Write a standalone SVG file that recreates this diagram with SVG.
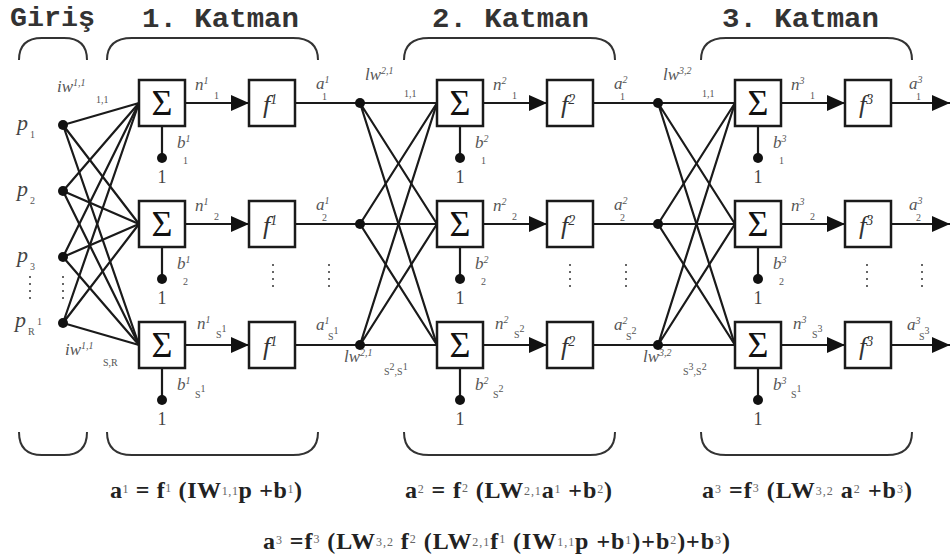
<svg xmlns="http://www.w3.org/2000/svg" width="950" height="560" viewBox="0 0 950 560">
<style>
.bg{fill:#fff}
.ln{stroke:#1a1a1a;stroke-width:2.2;fill:none}
.box{fill:#fff;stroke:#1a1a1a;stroke-width:2.5}
.dot{fill:#111}
.br{stroke:#333;stroke-width:2;fill:none}
.vd{stroke:#666;stroke-width:2;stroke-dasharray:2 5;fill:none}
.tt{font-family:"Liberation Mono","DejaVu Sans Mono",monospace;font-weight:bold;font-size:27px;fill:#333}
.sig{font-family:"Liberation Serif","DejaVu Serif",serif;font-size:36px;fill:#111;text-anchor:middle}
.fn{font-family:"Liberation Serif","DejaVu Serif",serif;font-style:italic;font-size:26px;fill:#333}
.lb{font-family:"Liberation Serif","DejaVu Serif",serif;font-style:italic;font-size:17px;fill:#555}
.sm{font-family:"Liberation Serif","DejaVu Serif",serif;font-size:10px;fill:#555}
.pl{font-family:"Liberation Serif","DejaVu Serif",serif;font-style:italic;font-size:22px;fill:#444}
.one{font-family:"Liberation Serif","DejaVu Serif",serif;font-size:18px;fill:#444;text-anchor:middle}
.fm{font-family:"Liberation Serif","DejaVu Serif",serif;font-weight:bold;font-size:24px;fill:#222}
.fs{font-size:12px;font-weight:normal;fill:#666}
</style>
<defs>
<marker id="ah" markerUnits="userSpaceOnUse" markerWidth="18" markerHeight="17" viewBox="0 0 18 17" refX="18" refY="8.5" orient="auto">
<path d="M0,0.5 L18,8.5 L0,16.5 z" fill="#111"/>
</marker>
</defs>
<rect class="bg" x="0" y="0" width="950" height="560"/>

<g id="titles">
<text class="tt" x="10" y="26" textLength="85" lengthAdjust="spacingAndGlyphs">Giriş</text>
<text class="tt" x="142" y="27" textLength="157" lengthAdjust="spacingAndGlyphs">1. Katman</text>
<text class="tt" x="432" y="27" textLength="157" lengthAdjust="spacingAndGlyphs">2. Katman</text>
<text class="tt" x="722" y="27" textLength="157" lengthAdjust="spacingAndGlyphs">3. Katman</text>
</g>

<g id="braces">
<path class="br" d="M19,60 Q19,38 42,38 L64,38 Q87,38 87,60"/>
<path class="br" d="M107,60 Q107,38 132,38 L293,38 Q318,38 318,60"/>
<path class="br" d="M404,60 Q404,38 429,38 L590,38 Q615,38 615,60"/>
<path class="br" d="M701,60 Q701,38 726,38 L887,38 Q912,38 912,60"/>
<path class="br" d="M19,432 Q19,455 42,455 L64,455 Q87,455 87,432"/>
<path class="br" d="M107,432 Q107,455 132,455 L293,455 Q318,455 318,432"/>
<path class="br" d="M404,432 Q404,455 429,455 L590,455 Q615,455 615,432"/>
<path class="br" d="M701,432 Q701,455 726,455 L887,455 Q912,455 912,432"/>
</g>

<g id="connectors">
<path class="ln" d="M63,125 L139,103 M63,125 L139,224 M63,125 L139,345"/>
<path class="ln" d="M63,191 L139,103 M63,191 L139,224 M63,191 L139,345"/>
<path class="ln" d="M63,257 L139,103 M63,257 L139,224 M63,257 L139,345"/>
<path class="ln" d="M63,323 L139,103 M63,323 L139,224 M63,323 L139,345"/>
<path class="ln" d="M360,103 L437,103 M360,103 L437,224 M360,103 L437,345"/>
<path class="ln" d="M360,224 L437,103 M360,224 L437,224 M360,224 L437,345"/>
<path class="ln" d="M360,345 L437,103 M360,345 L437,224 M360,345 L437,345"/>
<path class="ln" d="M658,103 L735,103 M658,103 L735,224 M658,103 L735,345"/>
<path class="ln" d="M658,224 L735,103 M658,224 L735,224 M658,224 L735,345"/>
<path class="ln" d="M658,345 L735,103 M658,345 L735,224 M658,345 L735,345"/>
<line class="ln" x1="185" y1="103" x2="249" y2="103" marker-end="url(#ah)"/>
<line class="ln" x1="185" y1="224" x2="249" y2="224" marker-end="url(#ah)"/>
<line class="ln" x1="185" y1="345" x2="249" y2="345" marker-end="url(#ah)"/>
<line class="ln" x1="483" y1="103" x2="547" y2="103" marker-end="url(#ah)"/>
<line class="ln" x1="483" y1="224" x2="547" y2="224" marker-end="url(#ah)"/>
<line class="ln" x1="483" y1="345" x2="547" y2="345" marker-end="url(#ah)"/>
<line class="ln" x1="781" y1="103" x2="845" y2="103" marker-end="url(#ah)"/>
<line class="ln" x1="781" y1="224" x2="845" y2="224" marker-end="url(#ah)"/>
<line class="ln" x1="781" y1="345" x2="845" y2="345" marker-end="url(#ah)"/>
<path class="ln" d="M295,103 L360,103 M295,224 L360,224 M295,345 L360,345"/>
<path class="ln" d="M593,103 L658,103 M593,224 L658,224 M593,345 L658,345"/>
<line class="ln" x1="891" y1="103" x2="950" y2="103" marker-end="url(#ah)"/>
<line class="ln" x1="891" y1="224" x2="950" y2="224" marker-end="url(#ah)"/>
<line class="ln" x1="891" y1="345" x2="950" y2="345" marker-end="url(#ah)"/>
<path class="ln" d="M162,126 L162,158 M162,247 L162,279 M162,368 L162,400"/>
<path class="ln" d="M460,126 L460,158 M460,247 L460,279 M460,368 L460,400"/>
<path class="ln" d="M758,126 L758,158 M758,247 L758,279 M758,368 L758,400"/>
</g>

<g id="inputs">
<circle class="dot" cx="63" cy="125" r="5"/>
<circle class="dot" cx="63" cy="191" r="5"/>
<circle class="dot" cx="63" cy="257" r="5"/>
<circle class="dot" cx="63" cy="323" r="5"/>
<text class="pl" x="17" y="130">p</text><text class="sm" x="30" y="138">1</text>
<text class="pl" x="17" y="196">p</text><text class="sm" x="30" y="204">2</text>
<text class="pl" x="17" y="262">p</text><text class="sm" x="30" y="270">3</text>
<text class="pl" x="15" y="327">p</text><text class="sm" x="28" y="335">R</text><text class="sm" x="37" y="325">1</text>
<line class="vd" x1="30" y1="276" x2="30" y2="302"/>
<line class="vd" x1="63" y1="276" x2="63" y2="302"/>
<text class="lb" x="57" y="92">iw<tspan class="sm" dy="-6">1,1</tspan></text>
<text class="sm" x="96" y="103">1,1</text>
<text class="lb" x="65" y="355">iw<tspan class="sm" dy="-6">1,1</tspan></text>
<text class="sm" x="103" y="366">S,R</text>
</g>

<g id="layer1">
<g id="sum1-1"><rect class="box" x="139" y="80" width="46" height="46"/><text class="sig" x="162" y="115">Σ</text></g>
<g id="sum1-2"><rect class="box" x="139" y="201" width="46" height="46"/><text class="sig" x="162" y="236">Σ</text></g>
<g id="sum1-3"><rect class="box" x="139" y="322" width="46" height="46"/><text class="sig" x="162" y="357">Σ</text></g>
<g id="f1-1"><rect class="box" x="249" y="80" width="46" height="46"/><text class="fn" x="263" y="113">f<tspan font-size="14" dy="-9">1</tspan></text></g>
<g id="f1-2"><rect class="box" x="249" y="201" width="46" height="46"/><text class="fn" x="263" y="234">f<tspan font-size="14" dy="-9">1</tspan></text></g>
<g id="f1-3"><rect class="box" x="249" y="322" width="46" height="46"/><text class="fn" x="263" y="355">f<tspan font-size="14" dy="-9">1</tspan></text></g>
<g id="b1">
<circle class="dot" cx="162" cy="158" r="5"/><circle class="dot" cx="162" cy="279" r="5"/><circle class="dot" cx="162" cy="400" r="5"/>
<text class="one" x="162" y="183">1</text><text class="one" x="162" y="304">1</text><text class="one" x="162" y="425">1</text>
<text class="lb" x="177" y="148">b<tspan class="sm" dy="-6">1</tspan></text><text class="sm" x="183" y="164">1</text>
<text class="lb" x="177" y="269">b<tspan class="sm" dy="-6">1</tspan></text><text class="sm" x="183" y="285">2</text>
<text class="lb" x="177" y="390">b<tspan class="sm" dy="-6">1</tspan></text><text class="sm" x="195" y="398">S<tspan dy="-6">1</tspan></text>
</g>
<g id="n1">
<text class="lb" x="195" y="90">n<tspan class="sm" dy="-6">1</tspan></text><text class="sm" x="214" y="99">1</text>
<text class="lb" x="195" y="211">n<tspan class="sm" dy="-6">1</tspan></text><text class="sm" x="214" y="220">2</text>
<text class="lb" x="197" y="329">n<tspan class="sm" dy="-6">1</tspan></text><text class="sm" x="216" y="338">S<tspan dy="-6">1</tspan></text>
</g>
<g id="a1">
<text class="lb" x="316" y="89">a<tspan class="sm" dy="-6">1</tspan></text><text class="sm" x="322" y="100">1</text>
<text class="lb" x="316" y="210">a<tspan class="sm" dy="-6">1</tspan></text><text class="sm" x="322" y="221">2</text>
<text class="lb" x="316" y="330">a<tspan class="sm" dy="-6">1</tspan></text><text class="sm" x="328" y="340">S<tspan dy="-6">1</tspan></text>
</g>
<line class="vd" x1="273" y1="264" x2="273" y2="292"/>
<line class="vd" x1="329" y1="264" x2="329" y2="292"/>
</g>

<g id="layer2">
<circle class="dot" cx="360" cy="103" r="5"/><circle class="dot" cx="360" cy="224" r="5"/><circle class="dot" cx="360" cy="345" r="5"/>
<text class="lb" x="365" y="80">lw<tspan class="sm" dy="-6">2,1</tspan></text><text class="sm" x="404" y="97">1,1</text>
<text class="lb" x="344" y="362">lw<tspan class="sm" dy="-6">2,1</tspan></text><text class="sm" x="384" y="375">S<tspan dy="-5">2</tspan><tspan dy="5">,S</tspan><tspan dy="-5">1</tspan></text>
<g id="sum2-1"><rect class="box" x="437" y="80" width="46" height="46"/><text class="sig" x="460" y="115">Σ</text></g>
<g id="sum2-2"><rect class="box" x="437" y="201" width="46" height="46"/><text class="sig" x="460" y="236">Σ</text></g>
<g id="sum2-3"><rect class="box" x="437" y="322" width="46" height="46"/><text class="sig" x="460" y="357">Σ</text></g>
<g id="f2-1"><rect class="box" x="547" y="80" width="46" height="46"/><text class="fn" x="561" y="113">f<tspan font-size="14" dy="-9">2</tspan></text></g>
<g id="f2-2"><rect class="box" x="547" y="201" width="46" height="46"/><text class="fn" x="561" y="234">f<tspan font-size="14" dy="-9">2</tspan></text></g>
<g id="f2-3"><rect class="box" x="547" y="322" width="46" height="46"/><text class="fn" x="561" y="355">f<tspan font-size="14" dy="-9">2</tspan></text></g>
<g id="b2">
<circle class="dot" cx="460" cy="158" r="5"/><circle class="dot" cx="460" cy="279" r="5"/><circle class="dot" cx="460" cy="400" r="5"/>
<text class="one" x="460" y="183">1</text><text class="one" x="460" y="304">1</text><text class="one" x="460" y="425">1</text>
<text class="lb" x="475" y="148">b<tspan class="sm" dy="-6">2</tspan></text><text class="sm" x="481" y="164">1</text>
<text class="lb" x="475" y="269">b<tspan class="sm" dy="-6">2</tspan></text><text class="sm" x="481" y="285">2</text>
<text class="lb" x="475" y="390">b<tspan class="sm" dy="-6">2</tspan></text><text class="sm" x="493" y="398">S<tspan dy="-6">2</tspan></text>
</g>
<g id="n2">
<text class="lb" x="493" y="90">n<tspan class="sm" dy="-6">2</tspan></text><text class="sm" x="512" y="99">1</text>
<text class="lb" x="493" y="211">n<tspan class="sm" dy="-6">2</tspan></text><text class="sm" x="512" y="220">2</text>
<text class="lb" x="495" y="329">n<tspan class="sm" dy="-6">2</tspan></text><text class="sm" x="514" y="338">S<tspan dy="-6">2</tspan></text>
</g>
<g id="a2">
<text class="lb" x="614" y="89">a<tspan class="sm" dy="-6">2</tspan></text><text class="sm" x="620" y="100">1</text>
<text class="lb" x="614" y="210">a<tspan class="sm" dy="-6">2</tspan></text><text class="sm" x="620" y="221">2</text>
<text class="lb" x="614" y="330">a<tspan class="sm" dy="-6">2</tspan></text><text class="sm" x="626" y="340">S<tspan dy="-6">2</tspan></text>
</g>
<line class="vd" x1="570" y1="264" x2="570" y2="292"/>
<line class="vd" x1="626" y1="264" x2="626" y2="292"/>
</g>

<g id="layer3">
<circle class="dot" cx="658" cy="103" r="5"/><circle class="dot" cx="658" cy="224" r="5"/><circle class="dot" cx="658" cy="345" r="5"/>
<text class="lb" x="663" y="80">lw<tspan class="sm" dy="-6">3,2</tspan></text><text class="sm" x="702" y="97">1,1</text>
<text class="lb" x="643" y="362">lw<tspan class="sm" dy="-6">3,2</tspan></text><text class="sm" x="683" y="375">S<tspan dy="-5">3</tspan><tspan dy="5">,S</tspan><tspan dy="-5">2</tspan></text>
<g id="sum3-1"><rect class="box" x="735" y="80" width="46" height="46"/><text class="sig" x="758" y="115">Σ</text></g>
<g id="sum3-2"><rect class="box" x="735" y="201" width="46" height="46"/><text class="sig" x="758" y="236">Σ</text></g>
<g id="sum3-3"><rect class="box" x="735" y="322" width="46" height="46"/><text class="sig" x="758" y="357">Σ</text></g>
<g id="f3-1"><rect class="box" x="845" y="80" width="46" height="46"/><text class="fn" x="859" y="113">f<tspan font-size="14" dy="-9">3</tspan></text></g>
<g id="f3-2"><rect class="box" x="845" y="201" width="46" height="46"/><text class="fn" x="859" y="234">f<tspan font-size="14" dy="-9">3</tspan></text></g>
<g id="f3-3"><rect class="box" x="845" y="322" width="46" height="46"/><text class="fn" x="859" y="355">f<tspan font-size="14" dy="-9">3</tspan></text></g>
<g id="b3">
<circle class="dot" cx="758" cy="158" r="5"/><circle class="dot" cx="758" cy="279" r="5"/><circle class="dot" cx="758" cy="400" r="5"/>
<text class="one" x="758" y="183">1</text><text class="one" x="758" y="304">1</text><text class="one" x="758" y="425">1</text>
<text class="lb" x="773" y="148">b<tspan class="sm" dy="-6">3</tspan></text><text class="sm" x="779" y="164">1</text>
<text class="lb" x="773" y="269">b<tspan class="sm" dy="-6">3</tspan></text><text class="sm" x="779" y="285">2</text>
<text class="lb" x="773" y="390">b<tspan class="sm" dy="-6">3</tspan></text><text class="sm" x="791" y="398">S<tspan dy="-6">1</tspan></text>
</g>
<g id="n3">
<text class="lb" x="791" y="90">n<tspan class="sm" dy="-6">3</tspan></text><text class="sm" x="810" y="99">1</text>
<text class="lb" x="791" y="211">n<tspan class="sm" dy="-6">3</tspan></text><text class="sm" x="810" y="220">2</text>
<text class="lb" x="793" y="329">n<tspan class="sm" dy="-6">3</tspan></text><text class="sm" x="812" y="338">S<tspan dy="-6">3</tspan></text>
</g>
<g id="a3">
<text class="lb" x="909" y="89">a<tspan class="sm" dy="-6">3</tspan></text><text class="sm" x="916" y="100">1</text>
<text class="lb" x="909" y="210">a<tspan class="sm" dy="-6">3</tspan></text><text class="sm" x="916" y="221">2</text>
<text class="lb" x="907" y="330">a<tspan class="sm" dy="-6">3</tspan></text><text class="sm" x="919" y="340">S<tspan dy="-6">3</tspan></text>
</g>
<line class="vd" x1="867" y1="264" x2="867" y2="292"/>
<line class="vd" x1="922" y1="264" x2="922" y2="292"/>
</g>

<g id="formulas">
<text class="fm" x="110" y="498" textLength="192" lengthAdjust="spacing">a<tspan class="fs" dy="-5">1</tspan><tspan dy="5"> = f</tspan><tspan class="fs" dy="-6">1</tspan><tspan dy="6"> (IW</tspan><tspan class="fs" dy="-3">1,1</tspan><tspan dy="3">p +b</tspan><tspan class="fs" dy="-5">1</tspan><tspan dy="5">)</tspan></text>
<text class="fm" x="405" y="498" textLength="207" lengthAdjust="spacing">a<tspan class="fs" dy="-5">2</tspan><tspan dy="5"> = f</tspan><tspan class="fs" dy="-6">2</tspan><tspan dy="6"> (LW</tspan><tspan class="fs" dy="-3">2,1</tspan><tspan dy="3">a</tspan><tspan class="fs" dy="-5">1</tspan><tspan dy="5"> +b</tspan><tspan class="fs" dy="-5">2</tspan><tspan dy="5">)</tspan></text>
<text class="fm" x="702" y="498" textLength="210" lengthAdjust="spacing">a<tspan class="fs" dy="-5">3</tspan><tspan dy="5"> =f</tspan><tspan class="fs" dy="-6">3</tspan><tspan dy="6"> (LW</tspan><tspan class="fs" dy="-3">3,2</tspan><tspan dy="3"> a</tspan><tspan class="fs" dy="-5">2</tspan><tspan dy="5"> +b</tspan><tspan class="fs" dy="-5">3</tspan><tspan dy="5">)</tspan></text>
<text class="fm" x="263" y="549" textLength="467" lengthAdjust="spacing">a<tspan class="fs" dy="-5">3</tspan><tspan dy="5"> =f</tspan><tspan class="fs" dy="-6">3</tspan><tspan dy="6"> (LW</tspan><tspan class="fs" dy="-3">3,2</tspan><tspan dy="3"> f</tspan><tspan class="fs" dy="-6">2</tspan><tspan dy="6"> (LW</tspan><tspan class="fs" dy="-3">2,1</tspan><tspan dy="3">f</tspan><tspan class="fs" dy="-6">1</tspan><tspan dy="6"> (IW</tspan><tspan class="fs" dy="-3">1,1</tspan><tspan dy="3">p +b</tspan><tspan class="fs" dy="-5">1</tspan><tspan dy="5">)+b</tspan><tspan class="fs" dy="-5">2</tspan><tspan dy="5">)+b</tspan><tspan class="fs" dy="-5">3</tspan><tspan dy="5">)</tspan></text>
</g>
</svg>
